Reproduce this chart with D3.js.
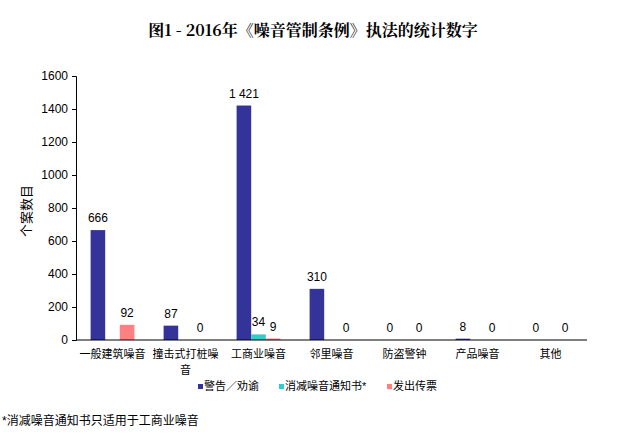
<!DOCTYPE html>
<html>
<head>
<meta charset="utf-8">
<script src="https://cdn.jsdelivr.net/npm/d3@7"></script>
<style>
  body { margin: 0; background: #fff; }
  text { font-family: "Liberation Sans", Arial, "Noto Sans CJK SC", sans-serif; }
</style>
</head>
<body>
<script>
"use strict";

const categories = ["一般建筑噪音", "撞击式打桩噪音", "工商业噪音", "邻里噪音", "防盗警钟", "产品噪音", "其他"];
const categoryLines = [["一般建筑噪音"], ["撞击式打桩噪", "音"], ["工商业噪音"], ["邻里噪音"], ["防盗警钟"], ["产品噪音"], ["其他"]];
const seriesNames = ["警告／劝谕", "消减噪音通知书*", "发出传票"];
const seriesColors = ["#333399", "#33CCCC", "#FF8080"];
const warnings = [666, 87, 1421, 310, 0, 8, 0];
const abatement = [null, null, 34, null, null, null, null];
const tickets = [92, 0, 9, 0, 0, 0, 0];
const yTicks = [0, 200, 400, 600, 800, 1000, 1200, 1400, 1600];

const width = 617, height = 434;
const margin = { left: 76, right: 30, top: 76, bottom: 94 };

let svg = d3
  .select("body")
  .append("svg")
  .attr("width", width)
  .attr("height", height);

const x0 = d3
  .scaleBand()
  .domain(categories)
  .range([margin.left, width - margin.right]);

const x1 = d3
  .scaleBand()
  .domain(seriesNames)
  .range([x0.bandwidth() * 0.2, x0.bandwidth() * 0.8]);

const y = d3
  .scaleLinear()
  .domain([0, 1600])
  .range([height - margin.bottom, margin.top]);

// title
svg
  .append("text")
  .attr("x", 313)
  .attr("y", 36)
  .attr("text-anchor", "middle")
  .style("font-family", "'Noto Serif CJK SC', 'Noto Sans CJK SC', serif")
  .style("font-weight", "bold")
  .style("font-size", "16px")
  .text("图1 - 2016年《噪音管制条例》执法的统计数字");

// y axis
const yAxis = svg
  .append("g")
  .attr("transform", `translate(${margin.left},0)`)
  .call(d3.axisLeft(y).tickValues(yTicks).tickSize(4).tickPadding(4).tickFormat(d3.format("d")));
yAxis.select(".domain").attr("stroke", "#000");
yAxis.selectAll("text").style("font-size", "12px").attr("fill", "#000");

svg
  .append("text")
  .attr("transform", "translate(26,211) rotate(-90)")
  .attr("text-anchor", "middle")
  .attr("dy", "0.35em")
  .style("font-size", "13px")
  .text("个案数目");

// bars
const rows = categories.map((c, i) => ({
  cat: c,
  values: [warnings[i], abatement[i], tickets[i]]
}));

const groups = svg
  .selectAll(".group")
  .data(rows)
  .enter()
  .append("g")
  .attr("class", "group")
  .attr("transform", d => `translate(${x0(d.cat)},0)`);

const cells = groups
  .selectAll(".cell")
  .data(d => d.values.map((v, j) => ({ s: seriesNames[j], v: v, j: j })).filter(e => e.v !== null))
  .enter();

cells
  .append("rect")
  .attr("x", d => x1(d.s))
  .attr("y", d => y(d.v))
  .attr("width", x1.bandwidth())
  .attr("height", d => y(0) - y(d.v))
  .attr("fill", d => seriesColors[d.j]);

cells
  .append("text")
  .attr("x", d => x1(d.s) + x1.bandwidth() / 2)
  .attr("y", d => y(d.v) - 8)
  .attr("text-anchor", "middle")
  .style("font-size", "12px")
  .text(d => d3.format(",")(d.v).replace(",", " "));

// x axis line
svg
  .append("line")
  .attr("x1", margin.left)
  .attr("x2", width - margin.right)
  .attr("y1", y(0))
  .attr("y2", y(0))
  .attr("stroke", "#000");

categories.forEach((c, i) => {
  const t = svg
    .append("text")
    .attr("x", x0(c) + x0.bandwidth() / 2)
    .attr("y", y(0) + 18)
    .attr("text-anchor", "middle")
    .style("font-size", "11px");
  categoryLines[i].forEach((line, k) => {
    t.append("tspan")
      .attr("x", x0(c) + x0.bandwidth() / 2)
      .attr("dy", k === 0 ? 0 : 16)
      .text(line);
  });
});

// legend
const legendX = [200, 281, 389];
const legend = svg
  .selectAll(".legend")
  .data(seriesNames)
  .enter()
  .append("g")
  .attr("class", "legend")
  .attr("transform", (d, i) => `translate(${legendX[i]},386)`);

legend
  .append("rect")
  .attr("x", -2)
  .attr("y", -2)
  .attr("width", 5)
  .attr("height", 5)
  .attr("fill", (d, i) => seriesColors[i]);

legend
  .append("text")
  .attr("x", 4)
  .attr("dy", "0.35em")
  .style("font-size", "11px")
  .text(d => d);

// footnote
svg
  .append("text")
  .attr("x", 2)
  .attr("y", 425)
  .style("font-size", "12px")
  .text("*消减噪音通知书只适用于工商业噪音");
</script>
</body>
</html>
